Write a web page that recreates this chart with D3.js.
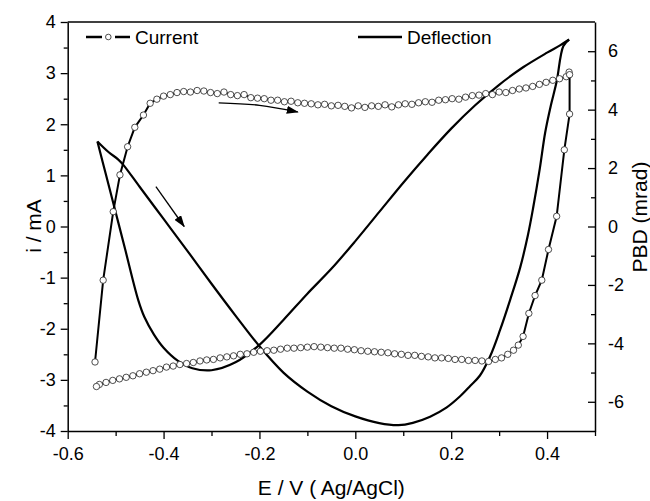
<!DOCTYPE html>
<html>
<head>
<meta charset="utf-8">
<script src="https://cdn.jsdelivr.net/npm/d3@7"></script>
<style>
body { margin: 0; background: #fff; }
svg text { font-family: "Liberation Sans", Arial, sans-serif; fill: #000; }
</style>
</head>
<body>
<svg id="chart" width="650" height="501"></svg>
<script>
// Tick values
var xTicks = [-0.6, -0.4, -0.2, 0.0, 0.2, 0.4];
var xMinor = [-0.5, -0.3, -0.1, 0.1, 0.3, 0.5];
var iTicks = [-4, -3, -2, -1, 0, 1, 2, 3, 4];
var iMinor = [-3.5, -2.5, -1.5, -0.5, 0.5, 1.5, 2.5, 3.5];
var pbdTicks = [-6, -4, -2, 0, 2, 4, 6];
var pbdMinor = [-5, -3, -1, 1, 3, 5];

// Current (E / V, i / mA), positive sweep then negative sweep
var currentForward = [[-0.543,-2.65],[-0.526,-1.05],[-0.505,0.29],[-0.491,1.01],[-0.475,1.56],[-0.460,1.94],[-0.442,2.18],[-0.428,2.41],[-0.414,2.49],[-0.400,2.55],[-0.386,2.58],[-0.372,2.62],[-0.358,2.64],[-0.344,2.63],[-0.330,2.66],[-0.316,2.65],[-0.302,2.62],[-0.288,2.60],[-0.274,2.63],[-0.260,2.58],[-0.246,2.56],[-0.232,2.58],[-0.218,2.52],[-0.204,2.51],[-0.190,2.50],[-0.176,2.47],[-0.162,2.47],[-0.148,2.44],[-0.134,2.45],[-0.120,2.42],[-0.106,2.41],[-0.092,2.40],[-0.078,2.38],[-0.064,2.39],[-0.050,2.36],[-0.036,2.37],[-0.022,2.35],[-0.008,2.32],[0.006,2.36],[0.020,2.33],[0.034,2.36],[0.048,2.35],[0.062,2.38],[0.076,2.34],[0.090,2.38],[0.104,2.40],[0.118,2.39],[0.132,2.42],[0.146,2.44],[0.160,2.43],[0.174,2.47],[0.188,2.48],[0.202,2.50],[0.216,2.49],[0.230,2.53],[0.244,2.56],[0.258,2.57],[0.272,2.60],[0.286,2.58],[0.300,2.63],[0.314,2.62],[0.328,2.66],[0.342,2.69],[0.356,2.71],[0.370,2.74],[0.384,2.78],[0.398,2.82],[0.412,2.86],[0.426,2.89],[0.440,2.93],[0.446,3.02]];
var currentReverse = [[0.447,2.97],[0.447,2.2],[0.436,1.5],[0.420,0.2],[0.403,-0.45],[0.389,-1.05],[0.375,-1.35],[0.362,-1.7],[0.350,-2.15],[0.340,-2.32],[0.330,-2.42],[0.318,-2.5],[0.305,-2.57],[0.292,-2.6],[0.278,-2.64],[0.264,-2.63],[0.250,-2.62],[0.236,-2.62],[0.222,-2.6],[0.208,-2.6],[0.194,-2.58],[0.180,-2.57],[0.166,-2.57],[0.152,-2.55],[0.138,-2.54],[0.124,-2.52],[0.110,-2.52],[0.096,-2.5],[0.082,-2.49],[0.068,-2.47],[0.054,-2.46],[0.040,-2.45],[0.026,-2.44],[0.012,-2.43],[-0.002,-2.41],[-0.016,-2.4],[-0.030,-2.38],[-0.044,-2.38],[-0.058,-2.37],[-0.072,-2.36],[-0.086,-2.35],[-0.100,-2.36],[-0.114,-2.37],[-0.128,-2.38],[-0.142,-2.38],[-0.156,-2.4],[-0.170,-2.42],[-0.184,-2.43],[-0.198,-2.44],[-0.212,-2.46],[-0.226,-2.49],[-0.240,-2.5],[-0.254,-2.53],[-0.268,-2.55],[-0.282,-2.57],[-0.296,-2.6],[-0.310,-2.61],[-0.324,-2.63],[-0.338,-2.66],[-0.352,-2.68],[-0.366,-2.7],[-0.380,-2.73],[-0.394,-2.75],[-0.408,-2.79],[-0.422,-2.82],[-0.436,-2.85],[-0.450,-2.88],[-0.464,-2.92],[-0.478,-2.95],[-0.492,-2.98],[-0.506,-3.01],[-0.520,-3.05],[-0.534,-3.09],[-0.540,-3.13]];

// Deflection (E / V, PBD / mrad)
var deflectionForward = [[-0.538,2.91],[-0.515,2.55],[-0.495,2.3],[-0.484,2.11],[-0.45,1.36],[-0.40,0.26],[-0.35,-0.84],[-0.30,-1.96],[-0.25,-3.05],[-0.20,-4.1],[-0.15,-5.0],[-0.10,-5.65],[-0.05,-6.15],[0.0,-6.5],[0.05,-6.73],[0.09,-6.8],[0.12,-6.72],[0.156,-6.51],[0.19,-6.2],[0.218,-5.82],[0.24,-5.45],[0.26,-5.1],[0.281,-4.45],[0.302,-3.54],[0.323,-2.51],[0.344,-1.4],[0.36,-0.3],[0.371,0.64],[0.385,2.0],[0.396,3.21],[0.408,4.15],[0.42,4.96],[0.434,6.18],[0.446,6.4]];
var deflectionReverse = [[0.446,6.4],[0.427,6.2],[0.40,5.95],[0.35,5.45],[0.30,4.85],[0.25,4.15],[0.20,3.35],[0.15,2.45],[0.10,1.5],[0.05,0.5],[0.0,-0.5],[-0.05,-1.45],[-0.10,-2.3],[-0.15,-3.2],[-0.20,-4.05],[-0.25,-4.65],[-0.30,-4.92],[-0.34,-4.85],[-0.37,-4.6],[-0.40,-4.15],[-0.42,-3.7],[-0.44,-3.1],[-0.453,-2.51],[-0.48,-0.79],[-0.50,0.49],[-0.52,1.76],[-0.538,2.91]];

// Sweep direction arrows (E, i)
var arrowTop = [[-0.285,2.42],[-0.2,2.37],[-0.12,2.24]];
var arrowDiag = [[-0.416,0.78],[-0.357,0.0]];

var svg = d3.select("#chart");
var margin = { left: 67.7, right: 595, top: 22, bottom: 431 };

var x = d3.scaleLinear().domain([-0.6, 0.5]).range([margin.left, margin.right]);
var yI = d3.scaleLinear().domain([-4, 4]).range([margin.bottom, margin.top]);
var yP = d3.scaleLinear().domain([-7, 7]).range([margin.bottom, margin.top]);

function styleAxis(g) {
    g.selectAll("path").attr("stroke", "#000").attr("stroke-width", 1.5);
    g.selectAll("line").attr("stroke", "#000").attr("stroke-width", 1.3);
    g.selectAll("text").attr("font-size", 18).attr("fill", "#000")
        .style("font-family", "'Liberation Sans', Arial, sans-serif");
}

// Bottom axis
svg.append("g")
    .attr("transform", "translate(0," + margin.bottom + ")")
    .call(d3.axisBottom(x).tickValues(xTicks).tickFormat(function(d) { return d.toFixed(1); })
        .tickSize(8).tickSizeOuter(0).tickPadding(8))
    .call(styleAxis);
svg.append("g")
    .attr("transform", "translate(0," + margin.bottom + ")")
    .call(d3.axisBottom(x).tickValues(xMinor).tickFormat("").tickSize(5).tickSizeOuter(0))
    .call(styleAxis)
    .select(".domain").remove();

// Left axis
svg.append("g")
    .attr("transform", "translate(" + margin.left + ",0)")
    .call(d3.axisLeft(yI).tickValues(iTicks).tickFormat(function(d) { return String(d); })
        .tickSize(7).tickSizeOuter(0).tickPadding(5))
    .call(styleAxis);
svg.append("g")
    .attr("transform", "translate(" + margin.left + ",0)")
    .call(d3.axisLeft(yI).tickValues(iMinor).tickFormat("").tickSize(4).tickSizeOuter(0))
    .call(styleAxis)
    .select(".domain").remove();

// Right axis, ticks pointing in
svg.append("g")
    .attr("transform", "translate(" + margin.right + ",0)")
    .call(d3.axisRight(yP).tickValues(pbdTicks).tickFormat(function(d) { return String(d); })
        .tickSize(-7).tickSizeOuter(0).tickPadding(13))
    .call(styleAxis);
svg.append("g")
    .attr("transform", "translate(" + margin.right + ",0)")
    .call(d3.axisRight(yP).tickValues(pbdMinor).tickFormat("").tickSize(-4).tickSizeOuter(0))
    .call(styleAxis)
    .select(".domain").remove();

// Top frame line
svg.append("line")
    .attr("x1", margin.left).attr("x2", margin.right).attr("y1", margin.top).attr("y2", margin.top)
    .attr("stroke", "#000").attr("stroke-width", 1.5);

// Axis titles
svg.append("text")
    .attr("x", (margin.left + margin.right) / 2).attr("y", 495)
    .attr("text-anchor", "middle").attr("font-size", 21)
    .text("E / V ( Ag/AgCl)");
svg.append("text")
    .attr("transform", "translate(34,226) rotate(-90)")
    .attr("text-anchor", "middle").attr("dy", "0.35em").attr("font-size", 21)
    .text("i / mA");
svg.append("text")
    .attr("transform", "translate(640,217) rotate(-90)")
    .attr("text-anchor", "middle").attr("dy", "0.35em").attr("font-size", 21)
    .text("PBD (mrad)");

// Deflection
var lineP = d3.line()
    .x(function(d) { return x(d[0]); })
    .y(function(d) { return yP(d[1]); })
    .curve(d3.curveCatmullRom);
[deflectionForward, deflectionReverse].forEach(function(branch) {
    svg.append("path")
        .datum(branch)
        .attr("d", lineP)
        .attr("fill", "none")
        .attr("stroke", "#000")
        .attr("stroke-width", 2.2);
});

// Current
var lineI = d3.line()
    .x(function(d) { return x(d[0]); })
    .y(function(d) { return yI(d[1]); });
[currentForward, currentReverse].forEach(function(branch) {
    svg.append("path")
        .datum(branch)
        .attr("d", lineI)
        .attr("fill", "none")
        .attr("stroke", "#000")
        .attr("stroke-width", 2);
    svg.append("g")
        .selectAll("circle")
        .data(branch)
        .enter()
        .append("circle")
        .attr("cx", function(d) { return x(d[0]); })
        .attr("cy", function(d) { return yI(d[1]); })
        .attr("r", 3.2)
        .attr("fill", "#fff")
        .attr("stroke", "#222")
        .attr("stroke-width", 0.8);
});

// Arrows
var defs = svg.append("defs");
defs.append("marker")
    .attr("id", "head")
    .attr("markerUnits", "userSpaceOnUse")
    .attr("markerWidth", 12).attr("markerHeight", 8)
    .attr("refX", 11).attr("refY", 4)
    .attr("orient", "auto")
    .append("path")
    .attr("d", "M0,0 L12,4 L0,8 Z")
    .attr("fill", "#000");
var arrowLine = d3.line()
    .x(function(d) { return x(d[0]); })
    .y(function(d) { return yI(d[1]); });
svg.append("path")
    .datum(arrowTop)
    .attr("d", arrowLine.curve(d3.curveNatural))
    .attr("fill", "none").attr("stroke", "#000").attr("stroke-width", 1.3)
    .attr("marker-end", "url(#head)");
svg.append("path")
    .datum(arrowDiag)
    .attr("d", arrowLine.curve(d3.curveLinear))
    .attr("fill", "none").attr("stroke", "#000").attr("stroke-width", 1.3)
    .attr("marker-end", "url(#head)");

// Legend
var legend = svg.append("g");
legend.append("line").attr("x1", 86).attr("x2", 102).attr("y1", 37).attr("y2", 37)
    .attr("stroke", "#000").attr("stroke-width", 2.5);
legend.append("line").attr("x1", 115).attr("x2", 130).attr("y1", 37).attr("y2", 37)
    .attr("stroke", "#000").attr("stroke-width", 2.5);
legend.append("circle").attr("cx", 108.3).attr("cy", 37).attr("r", 2.8)
    .attr("fill", "#fff").attr("stroke", "#222").attr("stroke-width", 0.8);
legend.append("text").attr("x", 135).attr("y", 44).attr("font-size", 19).text("Current");
legend.append("line").attr("x1", 358).attr("x2", 402).attr("y1", 37).attr("y2", 37)
    .attr("stroke", "#000").attr("stroke-width", 2.5);
legend.append("text").attr("x", 407).attr("y", 44).attr("font-size", 19).text("Deflection");
</script>
</body>
</html>
